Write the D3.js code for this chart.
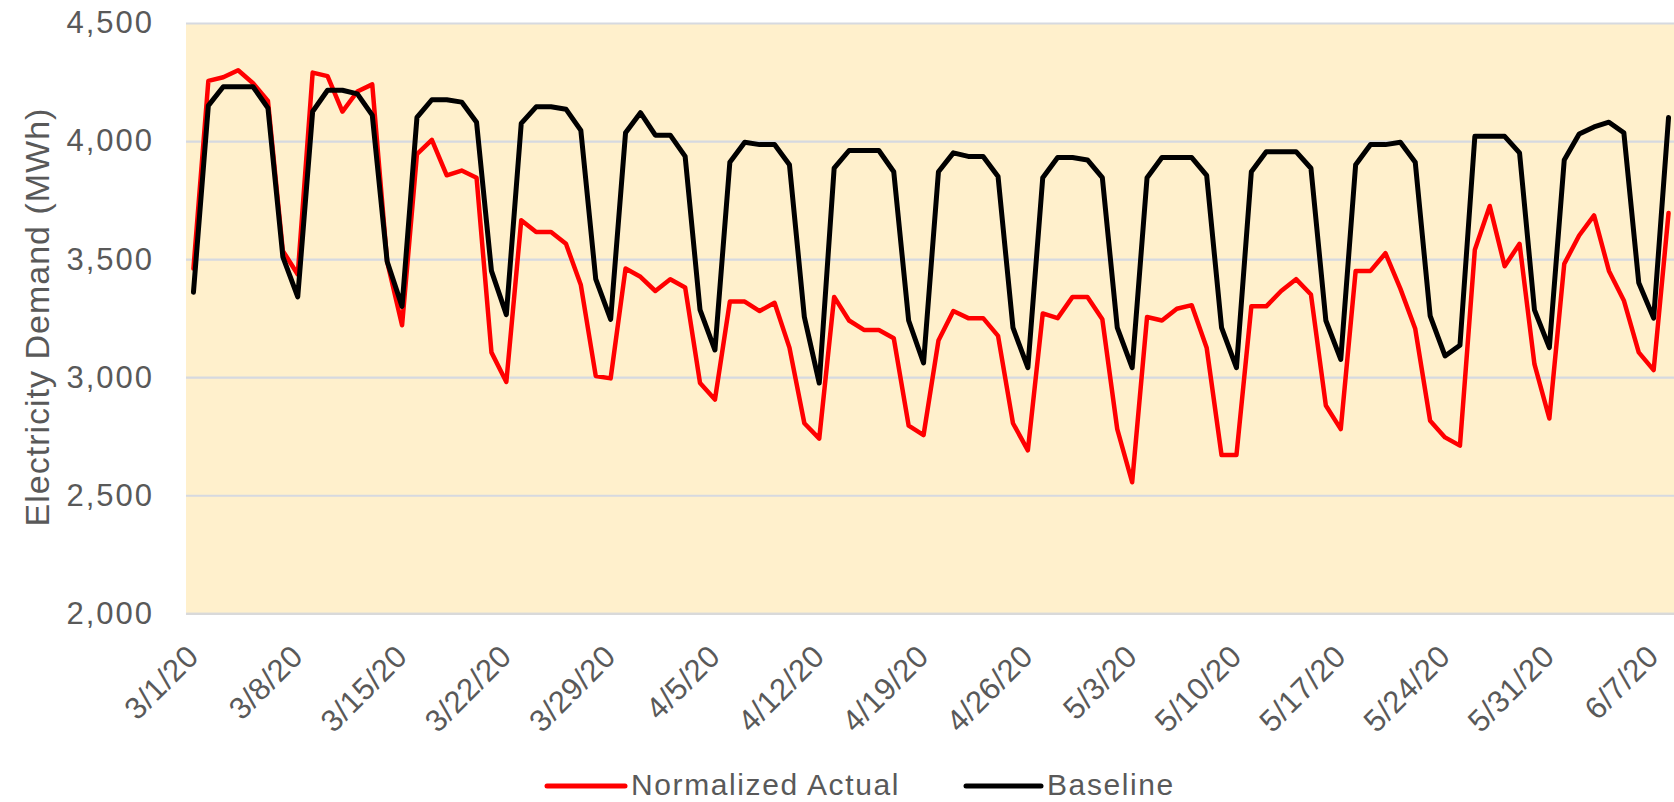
<!DOCTYPE html>
<html>
<head>
<meta charset="utf-8">
<script src="https://cdn.jsdelivr.net/npm/d3@7/dist/d3.min.js"></script>
<style>
  html, body { margin: 0; padding: 0; background: #ffffff; }
  svg { display: block; }
  text { font-family: "Liberation Sans", Arial, sans-serif; fill: #595959; }
</style>
</head>
<body>
<svg id="chart" width="1674" height="802"></svg>
<script>
// ---------- DATA ----------
const startDate = new Date(2020, 2, 1);   // 3/1/20
const endDate = new Date(2020, 5, 9);     // exclusive -> last day 6/8/20
const dates = d3.timeDay.range(startDate, endDate);

const tickLabels = ["3/1/20","3/8/20","3/15/20","3/22/20","3/29/20","4/5/20","4/12/20",
  "4/19/20","4/26/20","5/3/20","5/10/20","5/17/20","5/24/20","5/31/20","6/7/20"];

const yTicks = [2000, 2500, 3000, 3500, 4000, 4500];

const seriesNames = ["Normalized Actual", "Baseline"];

const actual = [
  3460, 4255, 4270, 4300, 4245, 4170, 3535, 3435, 4290, 4275,
  4125, 4210, 4240, 3490, 3220, 3945, 4005, 3855, 3875, 3845,
  3105, 2980, 3665, 3615, 3615, 3565, 3390, 3005, 2995, 3460,
  3425, 3365, 3415, 3380, 2975, 2905, 3320, 3320, 3280, 3315,
  3125, 2805, 2740, 3340, 3240, 3200, 3200, 3165, 2795, 2755,
  3155, 3280, 3250, 3250, 3175, 2805, 2690, 3270, 3250, 3340,
  3340, 3245, 2780, 2555, 3255, 3240, 3290, 3305, 3125, 2670,
  2670, 3300, 3300, 3365, 3415, 3350, 2880, 2780, 3450, 3450,
  3525, 3375, 3205, 2815, 2745, 2710, 3540, 3725, 3470, 3565,
  3055, 2825, 3480, 3600, 3685, 3450, 3325, 3105, 3030, 3695
];

const baseline = [
  3360, 4150, 4230, 4230, 4230, 4140, 3510, 3340, 4125, 4215,
  4215, 4200, 4110, 3490, 3300, 4100, 4175, 4175, 4165, 4080,
  3450, 3265, 4075, 4145, 4145, 4135, 4045, 3415, 3245, 4035,
  4120, 4025, 4025, 3935, 3285, 3115, 3910, 3995, 3985, 3985,
  3900, 3255, 2975, 3885, 3960, 3960, 3960, 3870, 3240, 3060,
  3870, 3950, 3935, 3935, 3850, 3210, 3040, 3845, 3930, 3930,
  3920, 3845, 3210, 3040, 3845, 3930, 3930, 3930, 3855, 3210,
  3040, 3870, 3955, 3955, 3955, 3885, 3240, 3075, 3900, 3985,
  3985, 3995, 3910, 3260, 3090, 3135, 4020, 4020, 4020, 3950,
  3285, 3125, 3920, 4030, 4060, 4080, 4035, 3400, 3250, 4100
];

// ---------- LAYOUT ----------
const svg = d3.select("#chart");
const plotLeft = 186, plotRight = 1676, plotTop = 23, plotBottom = 613.3;

const fmtLabel = d3.timeFormat("%-m/%-d/%y");
const keys = dates.map(d => fmtLabel(d));

const x = d3.scaleBand().domain(keys).range([plotLeft, plotRight]).padding(0);
const y = d3.scaleLinear().domain([2000, 4500]).range([plotBottom, plotTop]);

// plot background
svg.append("rect")
  .attr("x", plotLeft).attr("y", plotTop)
  .attr("width", plotRight - plotLeft).attr("height", plotBottom - plotTop)
  .attr("fill", "#FFF0CC");

// y axis with gridlines
const yAxis = svg.append("g")
  .attr("transform", `translate(${plotLeft},0)`)
  .call(d3.axisLeft(y).tickValues(yTicks).tickSize(-(plotRight - plotLeft)).tickPadding(32)
        .tickFormat(d3.format(",")));
yAxis.select(".domain").remove();
yAxis.selectAll(".tick line").attr("stroke", "#D6D9E0").attr("stroke-width", 2.2);
yAxis.selectAll(".tick text")
  .style("font-size", "31px").style("letter-spacing", "2px")
  .attr("dy", "0.32em");

// x axis
const xAxis = svg.append("g")
  .attr("transform", `translate(0,${plotBottom})`)
  .call(d3.axisBottom(x).tickValues(tickLabels).tickSize(0));
xAxis.select(".domain").attr("stroke", "#D9D9D9").attr("stroke-width", 2.2);
xAxis.selectAll(".tick text")
  .attr("x", 0).attr("y", 0).attr("dy", null)
  .attr("text-anchor", "end")
  .attr("transform", "translate(7,45) rotate(-45)")
  .style("font-size", "31px").style("letter-spacing", "0.5px");

// y axis title
svg.append("text")
  .attr("text-anchor", "middle")
  .attr("transform", "translate(49,317) rotate(-90)")
  .style("font-size", "34px").style("letter-spacing", "1px")
  .text("Electricity Demand (MWh)");

// lines
const cx = k => x(k) + x.bandwidth() / 2;
const line = d3.line().x((v, i) => cx(keys[i])).y(v => y(v));

svg.append("path").datum(actual)
  .attr("d", line).attr("fill", "none")
  .attr("stroke", "#FF0000").attr("stroke-width", 4.5)
  .attr("stroke-linejoin", "round").attr("stroke-linecap", "round");

svg.append("path").datum(baseline)
  .attr("d", line).attr("fill", "none")
  .attr("stroke", "#000000").attr("stroke-width", 5)
  .attr("stroke-linejoin", "round").attr("stroke-linecap", "round");

// legend
const legendItems = [
  { name: seriesNames[0], color: "#FF0000", x1: 547, x2: 625, tx: 631 },
  { name: seriesNames[1], color: "#000000", x1: 966, x2: 1041, tx: 1047 }
];
const lg = svg.append("g");
legendItems.forEach(it => {
  lg.append("line").attr("x1", it.x1).attr("x2", it.x2).attr("y1", 786).attr("y2", 786)
    .attr("stroke", it.color).attr("stroke-width", 5).attr("stroke-linecap", "round");
  lg.append("text").attr("x", it.tx).attr("y", 795)
    .style("font-size", "30px").style("letter-spacing", "1.6px")
    .text(it.name);
});
</script>
</body>
</html>
